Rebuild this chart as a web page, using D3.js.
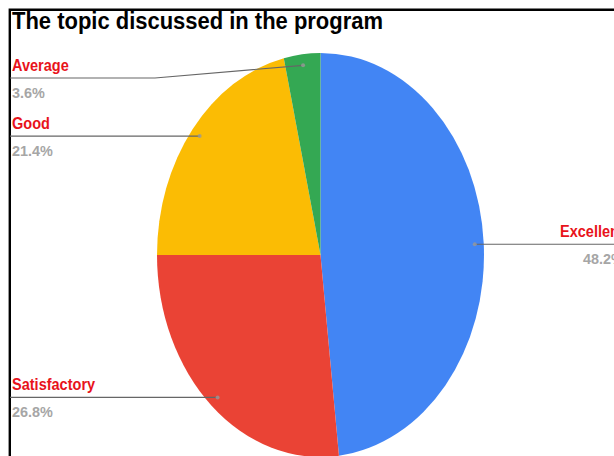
<!DOCTYPE html>
<html><head><meta charset="utf-8">
<script src="https://cdn.jsdelivr.net/npm/d3@7"></script>
<style>html,body{margin:0;padding:0;background:#fff;overflow:hidden}</style>
</head><body>
<svg id="c" width="614" height="456"></svg>
<script>
const title = "The topic discussed in the program";
const categories = ["Excellent", "Satisfactory", "Good", "Average"];
const values = [48.2, 26.8, 21.4, 3.6];
const colors = ["#4285f4", "#ea4335", "#fbbc04", "#34a853"];

const svg = d3.select("#c");
const W = 614, H = 456;
svg.append("rect").attr("width", W).attr("height", H).attr("fill", "#fff");

// frame
svg.append("path").attr("d", `M9.8,${H+5} L9.8,9.8 L${W+5},9.8`)
  .attr("fill", "none").attr("stroke", "#000").attr("stroke-width", 2.4);

// title
svg.append("text").attr("x", 12).attr("y", 28.5)
  .attr("font-family", "Liberation Sans, Arial, sans-serif")
  .attr("font-weight", "bold").attr("font-size", 23)
  .attr("textLength", 371).attr("lengthAdjust", "spacingAndGlyphs")
  .attr("fill", "#000").text(title);

const cx = 320.5, cy = 255, rx = 163.5, ry = 202;
const r = rx, sy = ry / rx;
const pie = d3.pie().sort(null).value(d => d.v);
const data = pie(categories.map((c, i) => ({c, v: values[i], col: colors[i]})));
const arc = d3.arc().innerRadius(0).outerRadius(r);

const g = svg.append("g").attr("transform", `translate(${cx},${cy}) scale(1,${sy})`);
g.selectAll("path").data(data).join("path")
  .attr("d", arc).attr("fill", d => d.data.col);

const dotArc = d3.arc().innerRadius(r * 0.945).outerRadius(r * 0.945);
const lab = svg.append("g");
data.forEach(d => {
  const [px, py0] = dotArc.centroid(d);
  const dx = cx + px, dy = cy + py0 * sy;
  const right = dx > cx;
  const ly = Math.max(dy, 78);
  let pts;
  if (right) pts = [[dx, dy], [W + 5, ly]];
  else if (Math.abs(ly - dy) > 1) pts = [[dx, dy], [155, ly], [10, ly]];
  else pts = [[dx, dy], [10, ly]];
  lab.append("path").attr("d", d3.line()(pts))
    .attr("fill", "none").attr("stroke", "#666").attr("stroke-width", 1.1);
  lab.append("circle").attr("cx", dx).attr("cy", dy).attr("r", 2)
    .attr("fill", "#999").attr("opacity", 0.8);
  const tx = right ? 560 : 12;
  const name = d.data.c;
  const nameT = lab.append("text").attr("x", tx).attr("y", ly - 7)
    .attr("font-family", "Liberation Sans, Arial, sans-serif")
    .attr("font-weight", "bold").attr("font-size", 16.5)
    .attr("fill", "#e8131b").text(name);
  const nl = nameT.node().getComputedTextLength();
  nameT.attr("textLength", nl * 0.88).attr("lengthAdjust", "spacingAndGlyphs");
  const pctT = lab.append("text").attr("x", right ? 583 : 12).attr("y", ly + 19.5)
    .attr("font-family", "Liberation Sans, Arial, sans-serif")
    .attr("font-weight", "bold").attr("font-size", 15.5)
    .attr("fill", "#a6a6a6").text(d.data.v.toFixed(1) + "%");
  const pl = pctT.node().getComputedTextLength();
  pctT.attr("textLength", pl * 0.93).attr("lengthAdjust", "spacingAndGlyphs");
});
</script>
</body></html>
